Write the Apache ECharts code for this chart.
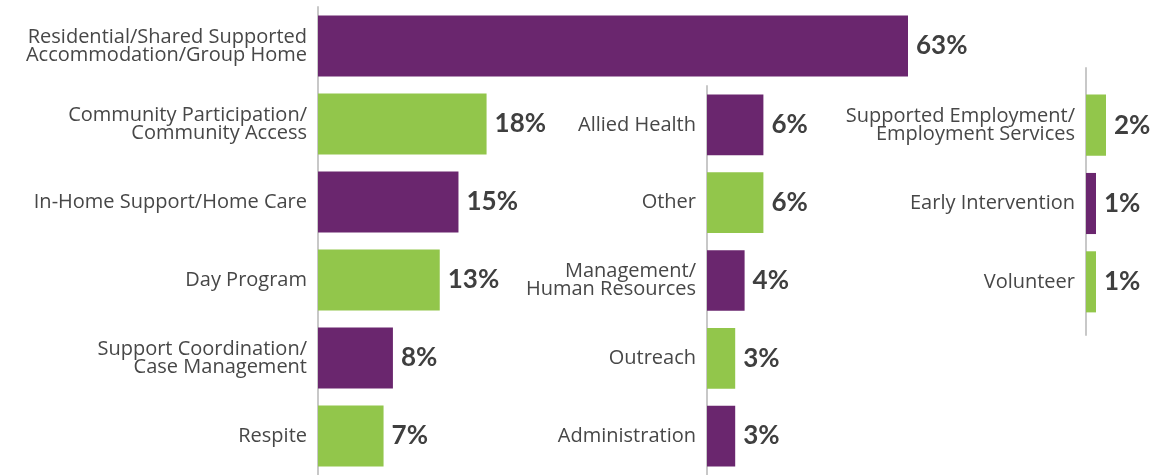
<!DOCTYPE html>
<html>
<head>
<meta charset="utf-8">
<script src="https://cdn.jsdelivr.net/npm/echarts@6/dist/echarts.min.js"></script>
<style>
  html, body { margin: 0; padding: 0; background: #fff; }
  #chart { width: 1155px; height: 475px; }
</style>
</head>
<body>
<div id="chart"></div>
<script>
// column 1
var cats1 = ['Residential/Shared Supported\nAccommodation/Group Home', 'Community Participation/\nCommunity Access',
  'In-Home Support/Home Care', 'Day Program', 'Support Coordination/\nCase Management', 'Respite'];
var vals1 = [63, 18, 15, 13, 8, 7];
// column 2
var cats2 = ['Allied Health', 'Other', 'Management/\nHuman Resources', 'Outreach', 'Administration'];
var vals2 = [6, 6, 4, 3, 3];
// column 3
var cats3 = ['Supported Employment/\nEmployment Services', 'Early Intervention', 'Volunteer'];
var vals3 = [2, 1, 1];

var PURPLE = '#6a266e', GREEN = '#92c64b';
var labelFont = '"Open Sans", sans-serif';
var valueFont = 'Lato, sans-serif';

function items(vals, offset) {
  return vals.map(function (v, i) {
    return { value: v, itemStyle: { color: (i + offset) % 2 === 0 ? PURPLE : GREEN } };
  });
}

function catAxis(idx, cats, showLine) {
  return {
    type: 'category', gridIndex: idx, data: cats, inverse: true,
    axisLine: { show: showLine, lineStyle: { color: '#c8c8c8', width: 2 } },
    axisTick: { show: false },
    axisLabel: { margin: 11, color: '#474747', fontSize: 20, fontFamily: labelFont, lineHeight: 18 }
  };
}

function valAxis(idx, max) {
  return { type: 'value', gridIndex: idx, min: 0, max: max, show: false };
}

function barSeries(idx, vals, offset) {
  return {
    type: 'bar', xAxisIndex: idx, yAxisIndex: idx, data: items(vals, offset),
    barWidth: '78%', silent: true,
    label: {
      show: true, position: 'right', distance: 8, formatter: '{c}%',
      color: '#3f3f3f', fontSize: 26, fontWeight: 'bold', fontFamily: valueFont
    }
  };
}

var chart = echarts.init(document.getElementById('chart'));
chart.setOption({
  animation: false,
  grid: [
    { left: 318, top: 7, width: 590, height: 470 },
    { left: 707, top: 86, width: 94, height: 392 },
    { left: 1086, top: 86, width: 50, height: 235 },
    { left: 1086, top: 68, width: 10, height: 267 }
  ],
  xAxis: [valAxis(0, 63), valAxis(1, 10), valAxis(2, 5), valAxis(3, 1)],
  yAxis: [
    catAxis(0, cats1, true),
    catAxis(1, cats2, true),
    catAxis(2, cats3, false),
    { type: 'value', gridIndex: 3, min: 0, max: 1, axisLine: { show: true, lineStyle: { color: '#c8c8c8', width: 2 } },
      axisTick: { show: false }, axisLabel: { show: false }, splitLine: { show: false } }
  ],
  series: [barSeries(0, vals1, 0), barSeries(1, vals2, 0), barSeries(2, vals3, 1)]
});
</script>
</body>
</html>
